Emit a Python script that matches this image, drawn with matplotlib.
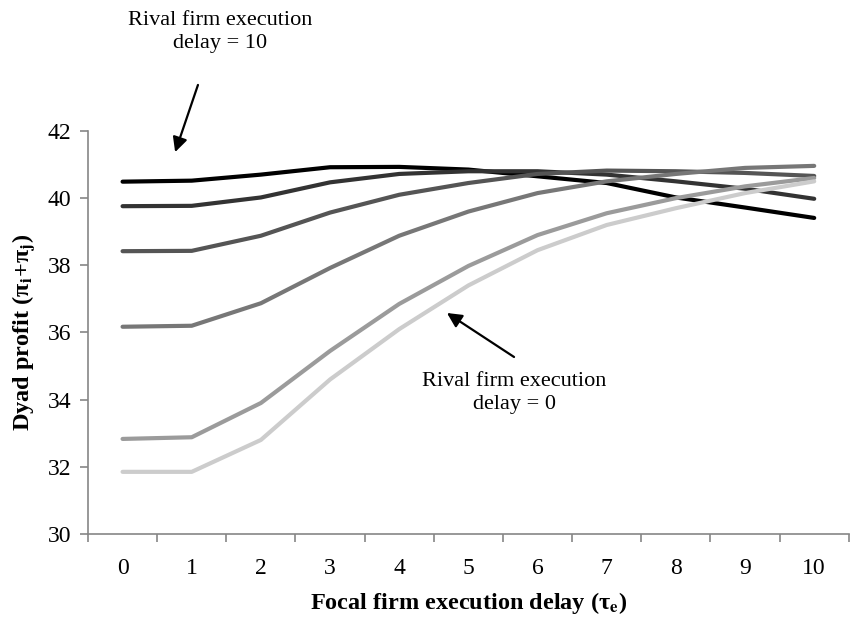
import numpy as np
import matplotlib.pyplot as plt

plt.rcParams['font.family'] = 'Liberation Serif'
plt.rcParams['mathtext.fontset'] = 'stix'

# focal firm execution delay (categories on x)
tau_e = [0, 1, 2, 3, 4, 5, 6, 7, 8, 9, 10]

# dyad profit curves, rival delay 10 (black) down to rival delay 0 (light grey)
profit_d10 = [40.49, 40.52, 40.70, 40.92, 40.93, 40.85, 40.65, 40.45, 40.02, 39.72, 39.41]
profit_d8 = [39.76, 39.77, 40.02, 40.47, 40.72, 40.80, 40.80, 40.70, 40.50, 40.28, 39.98]
profit_d6 = [38.42, 38.43, 38.88, 39.57, 40.10, 40.45, 40.72, 40.82, 40.80, 40.75, 40.66]
profit_d4 = [36.17, 36.20, 36.87, 37.92, 38.88, 39.60, 40.15, 40.50, 40.72, 40.90, 40.96]
profit_d2 = [32.83, 32.88, 33.90, 35.45, 36.85, 37.98, 38.90, 39.55, 40.00, 40.35, 40.60]
profit_d0 = [31.85, 31.85, 32.80, 34.60, 36.10, 37.40, 38.45, 39.20, 39.70, 40.15, 40.50]

series = [profit_d10, profit_d8, profit_d6, profit_d4, profit_d2, profit_d0]
greys = ['#000000', '#333333', '#555555', '#777777', '#9b9b9b', '#cccccc']

fig = plt.figure(figsize=(8.51, 6.23), dpi=100)
ax = fig.add_axes([0.1034, 0.1429, 0.894, 0.6469])

x = np.arange(len(tau_e))
for vals, c in zip(series, greys):
    ax.plot(x, vals, color=c, lw=3, solid_capstyle='round', zorder=3)

ax.set_xlim(-0.5, len(tau_e) - 0.5)
ax.set_ylim(30, 42)
ax.set_yticks(np.arange(30, 43, 2))
ax.set_xticks(x)
ax.set_xticklabels([str(t) for t in tau_e])
ax.set_xticks(np.arange(-0.5, len(tau_e)), minor=True)

for s in ['top', 'right']:
    ax.spines[s].set_visible(False)
for s in ['left', 'bottom']:
    ax.spines[s].set_color('#868686')
    ax.spines[s].set_linewidth(1.2)

ax.tick_params(axis='y', length=6, width=1.2, color='#868686', labelsize=17, pad=6)
ax.tick_params(axis='x', which='major', length=0, labelsize=17, pad=17)
ax.tick_params(axis='x', which='minor', length=6, width=1.2, color='#868686')

ax.set_xlabel(r'Focal firm execution delay (τ$_{\mathbf{e}}$)',
              fontsize=17.5, fontweight='bold', labelpad=8)
ax.set_ylabel(r'Dyad profit (π$_{\mathbf{i}}$+π$_{\mathbf{j}}$)',
              fontsize=17.5, fontweight='bold', labelpad=8)

arrow = dict(arrowstyle='-|>', color='black', lw=1.6, mutation_scale=22, shrinkA=0, shrinkB=0)
ax.annotate('', xy=(0.76, 41.37), xytext=(1.09, 43.37), arrowprops=arrow,
            annotation_clip=False)
ax.text(1.41, 44.95, 'Rival firm execution\ndelay = 10', ha='center', va='center',
        fontsize=16, linespacing=1.25, clip_on=False)

ax.annotate('', xy=(4.69, 36.58), xytext=(5.66, 35.27), arrowprops=arrow)
ax.text(5.66, 34.2, 'Rival firm execution\ndelay = 0', ha='center', va='center',
        fontsize=16, linespacing=1.25)

plt.savefig('out.png', dpi=100)
